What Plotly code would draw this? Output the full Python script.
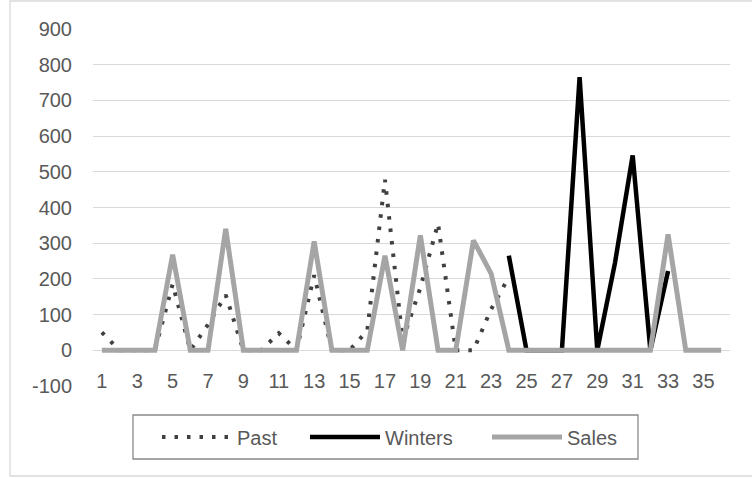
import plotly.graph_objects as go

# Periods 1..36
periods = list(range(1, 37))

# Historical demand (periods 1-24)
past = [50, 0, 0, 0, 185, 0, 72, 155, 0, 0, 48, 0,
        210, 0, 0, 55, 478, 28, 175, 355, 0, 0, 115, 205]

# Holt-Winters forecast (periods 24-33)
winters_periods = list(range(24, 34))
winters = [265, 0, 0, 0, 765, 0, 245, 546, 0, 222]

# Actual sales (periods 1-36)
sales = [0, 0, 0, 0, 268, 0, 0, 340, 0, 0, 0, 0,
         305, 0, 0, 0, 265, 0, 322, 0, 0, 308, 215, 0,
         0, 0, 0, 0, 0, 0, 0, 0, 325, 0, 0, 0]

x_ticks = list(range(1, 37, 2))
y_ticks = list(range(-100, 1000, 100))

FONT = "Liberation Sans"
TEXT = "#595959"

W, H = 752, 478
ML, MR, MT, MB = 93, 22, 29, 92
PW, PH = W - ML - MR, H - MT - MB


def px_x(x):
    return (x - ML) / PW


def px_y(y):
    return (H - MB - y) / PH


fig = go.Figure()

fig.add_trace(go.Scatter(
    x=periods[:len(past)], y=past, name="Past", mode="lines",
    line=dict(color="#404040", width=4, dash="3.5px,9px"),
    legend="legend",
))
fig.add_trace(go.Scatter(
    x=winters_periods, y=winters, name="Winters", mode="lines",
    line=dict(color="#000000", width=4.5),
    legend="legend2",
))
fig.add_trace(go.Scatter(
    x=periods, y=sales, name="Sales", mode="lines",
    line=dict(color="#A5A5A5", width=5),
    legend="legend3",
))

legend_common = dict(
    orientation="h", yanchor="middle", xanchor="left",
    bgcolor="rgba(0,0,0,0)", borderwidth=0,
    font=dict(family=FONT, size=20, color=TEXT),
    itemwidth=70, itemclick=False, itemdoubleclick=False,
)

fig.update_layout(
    width=W, height=H,
    margin=dict(l=ML, r=MR, t=MT, b=MB),
    paper_bgcolor="white", plot_bgcolor="white",
    font=dict(family=FONT, size=20, color=TEXT),
    showlegend=True,
    legend=dict(x=px_x(157), y=px_y(437), **legend_common),
    legend2=dict(x=px_x(305), y=px_y(437), **legend_common),
    legend3=dict(x=px_x(487), y=px_y(437), **legend_common),
    xaxis=dict(
        range=[0.5, 36.5], tickvals=x_ticks, ticktext=[str(v) for v in x_ticks],
        showgrid=False, zeroline=False, showline=False, ticks="",
        ticklabelstandoff=-19,
        tickfont=dict(family=FONT, size=20, color=TEXT),
    ),
    yaxis=dict(
        range=[-100, 900], tickvals=y_ticks, ticktext=[str(v) for v in y_ticks],
        showgrid=True, gridcolor="#D9D9D9", gridwidth=1.3,
        zeroline=False, showline=False, ticks="",
        ticklabelstandoff=20,
        tickfont=dict(family=FONT, size=20, color=TEXT),
    ),
    shapes=[
        # chart frame
        dict(type="rect", xref="paper", yref="paper",
             x0=px_x(10), x1=px_x(770), y0=px_y(476), y1=px_y(1),
             line=dict(color="#D9D9D9", width=1.3), layer="below"),
        # legend frame
        dict(type="rect", xref="paper", yref="paper",
             x0=px_x(133), x1=px_x(638), y0=px_y(459), y1=px_y(415),
             line=dict(color="#898989", width=1.3)),
    ],
)

fig.write_html("out.html")
